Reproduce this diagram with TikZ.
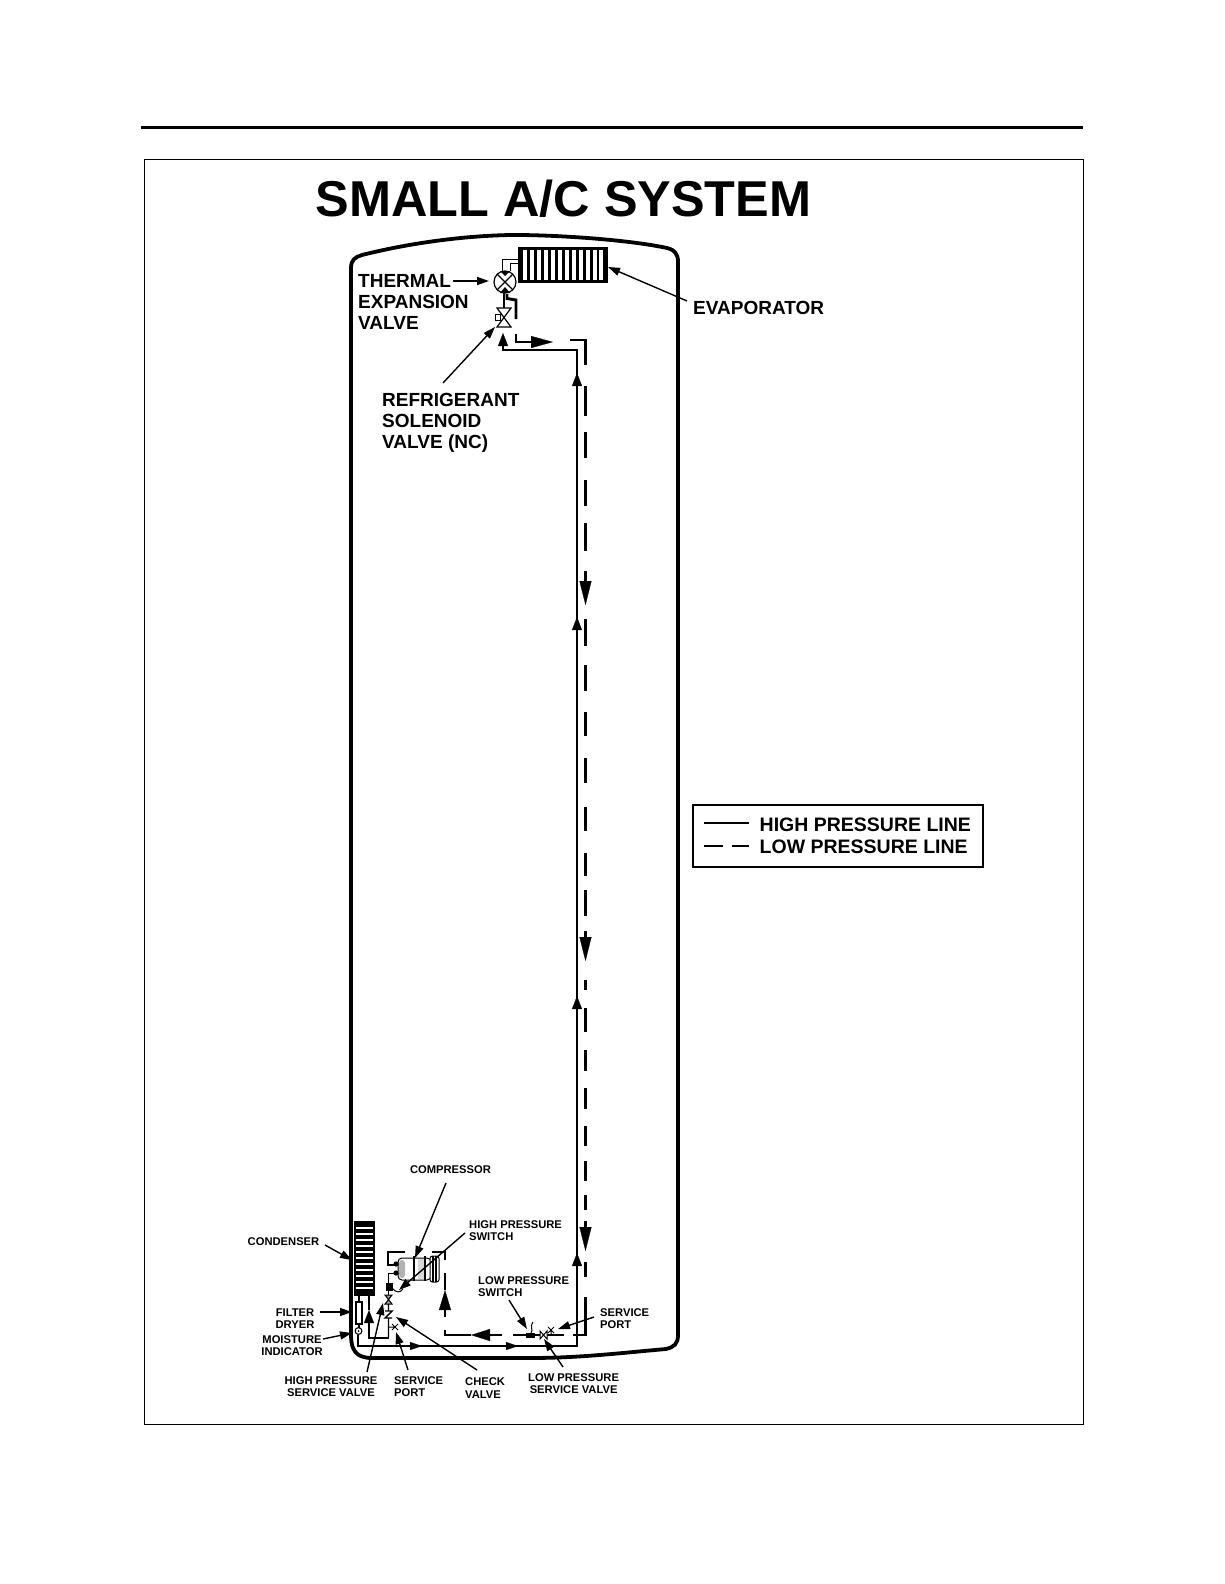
\documentclass[tikz,border=0pt]{standalone}
\usepackage{fontspec}
\setmainfont{Liberation Sans}
\usetikzlibrary{arrows.meta}
\tikzset{
  hp/.style={line width=1.5pt},
  lp/.style={line width=2.9pt},
  thin part/.style={line width=1pt},
  bigtip/.style={line width=0.2pt,-{Triangle[length=#1,width=12pt]}},
  bigtip/.default=22pt,
  hptip/.style={line width=0.2pt,-{Triangle[length=13pt,width=10pt]}},
  lead/.style={line width=1.4pt,-{Triangle[length=12pt,width=8pt]}},
  lab/.style={font=\fontsize{19}{21}\selectfont\bfseries,align=left,anchor=west,inner sep=0pt},
  small/.style={font=\fontsize{11.2}{12.2}\selectfont\bfseries,inner sep=0pt},
}
\begin{document}
\begin{tikzpicture}[x=1pt,y=-1pt]
\useasboundingbox (0,0) rectangle (1224,1584);
\fill[white] (0,0) rectangle (1224,1584);
% page furniture
\draw[line width=3pt] (141,128) -- (1083,128);
\draw[line width=1pt] (144.5,159) rectangle (1083.5,1424);
\node[inner sep=0pt,font=\fontsize{50.4}{52}\selectfont\bfseries] (title) at (563.5,198.5) {SMALL A/C SYSTEM};
% vehicle outline
\draw[line width=3.8pt,line join=round]
  (351,1335) -- (351,268) .. controls (351,260) and (355,257) .. (362,255)
  .. controls (430,238) and (490,235) .. (515,235)
  .. controls (560,235) and (630,240) .. (667,248)
  .. controls (675,250) and (678,254) .. (678,262)
  -- (678,1335) .. controls (678,1344) and (674,1347) .. (666,1349)
  .. controls (620,1353) and (580,1358) .. (530,1358)
  -- (372,1358) .. controls (356,1358) and (351,1350) .. (351,1335);
% evaporator
\fill (518,247) rectangle (608,283);
\foreach \x in {525,532,539,546,553,560,567,574,581,588,595,601}
  \fill[white] (\x-1.9,250) rectangle (\x+1.9,280);
% thermal expansion valve
\draw[line width=1.2pt,fill=white] (505,282) circle (11);
\node[inner sep=0pt,minimum size=0pt] (txv) at (505,282) {};
\draw[line width=1.2pt] (497,274) -- (513,290) (513,274) -- (497,290);
\draw[thin part] (502,271) -- (502,259.5) -- (518,259.5);
\draw[thin part] (510,271) -- (510,263.5) -- (518,263.5);
\fill (500,293) -- (510,293) -- (505,287) -- cycle;
\fill (500,271) -- (510,271) -- (505,276) -- cycle;
% solenoid valve
\draw[line width=1.2pt,fill=white] (497,308) -- (511,308) -- (497,327) -- (511,327) -- cycle;
\draw[line width=1pt,fill=white] (495,314) rectangle (500,320);
\draw[line width=1.4pt] (504,293) -- (504,308);
% high pressure line
\draw[hp] (503,343) -- (503,350) -- (577,350) -- (577,1346) -- (358,1346) -- (358,1335);
\draw[hptip] (503,346) -- (503,333);
\draw[hptip] (577,386) -- (577,373);
\draw[hptip] (577,631) -- (577,617);
\draw[hptip] (577,1009) -- (577,996);
\draw[hptip] (577,1265) -- (577,1253);
\draw[line width=0.2pt,-{Triangle[length=12pt,width=8pt]}] (506,1346) -- (518,1346);
\draw[line width=0.2pt,-{Triangle[length=12pt,width=8pt]}] (410,1346) -- (422,1346);
% low pressure line, top
\draw[lp] (507,294) -- (507,298.5) -- (516,300) -- (516,319);
\draw[lp] (516,334) -- (516,342) -- (531,342);
\draw[bigtip=22pt] (531,342) -- (553,342);
\draw[lp] (570,340) -- (585.5,340) -- (585.5,365);
% low pressure dashes
\foreach \a/\b in {386/416,432/458,480/506,523/551,571/582,619/646,665/691,712/736,758/783,807/831,853/876,890/916,931/938,980/990,1008/1032,1050/1071,1088/1109,1126/1146,1161/1181,1195/1210,1221/1228,1262/1277}
  \draw[lp] (585.5,\a) -- (585.5,\b);
\draw[bigtip=24pt] (585.5,581) -- (585.5,605);
\draw[bigtip=24pt] (585.5,937) -- (585.5,961);
\draw[bigtip=24pt] (585.5,1227) -- (585.5,1251);
% low pressure line, bottom
\draw[lp] (585.5,1297) -- (585.5,1335) -- (573,1335);
\draw[lp] (564,1335) -- (513,1335);
\draw[lp] (502,1335) -- (490,1335);
\draw[bigtip=19pt] (490,1335) -- (471,1335);
\draw[lp] (471,1335) -- (445,1335) -- (445,1330);
\draw[lp] (445,1317) -- (445,1310);
\draw[bigtip=20pt] (445,1310) -- (445,1290);
\draw[lp] (445,1273) -- (445,1290);
\draw[lp] (445,1260) -- (445,1252) -- (432,1252);
\draw[lp] (405,1252) -- (388,1252) -- (388,1265) -- (398,1265);
% low side parts
\fill (526,1333) rectangle (535,1338);
\draw[line width=1pt] (531,1333) .. controls (534,1329) and (529,1327) .. (533,1322);
\draw[line width=1pt,fill=white] (540,1331) -- (540,1339) -- (547,1331) -- (547,1339) -- cycle;
\draw[line width=1pt] (548,1327) -- (554,1333) (554,1327) -- (548,1333) (551,1330) -- (551,1335);
% compressor
\draw[line width=1pt,fill=white,rounded corners=4pt] (398,1258) rectangle (431,1280);
\fill[black!30,rounded corners=3pt] (399,1260) rectangle (405,1278);
\fill[black!15] (418,1259) rectangle (424,1279);
\draw[line width=1pt,fill=white,rounded corners=2.5pt] (430,1256) rectangle (439,1282);
\draw[line width=1.2pt] (414,1256) -- (414,1281) (425,1256) -- (425,1281) (433,1256) -- (433,1282) (436,1256) -- (436,1282);
\fill (396,1264) circle (2.6) (396,1273) circle (2.6);
\draw[thin part] (396,1273) -- (388,1273) -- (388,1284);
% high pressure switch, service valve, check valve
\fill (386,1283) rectangle (392.5,1291);
\draw[line width=1pt] (392,1288) .. controls (396,1293) and (400,1293) .. (403,1289);
\draw[line width=1.2pt] (388.5,1291) -- (388.5,1295);
\draw[line width=1pt,fill=black!40] (385,1295) -- (392,1295) -- (385,1304) -- (392,1304) -- cycle;
\draw[line width=1.4pt] (388.5,1304) -- (388.5,1310) (385,1311) -- (392,1311) -- (385,1318) -- (392,1318) (388.5,1318) -- (388.5,1338);
\draw[hp] (388.5,1338) -- (369,1338) -- (369,1318);
\draw[hptip] (369,1322) -- (369,1310);
\draw[line width=1.2pt] (369,1310) -- (369,1295);
\draw[line width=1pt] (388.5,1327) -- (395,1327) (392,1324) -- (398,1330) (398,1324) -- (392,1330);
% condenser
\fill (354,1221) rectangle (375,1296);
\foreach \y in {1228,1234,1240,1246,1252,1258,1264,1270,1276,1282,1288}
  \fill[white] (356,\y-1.4) rectangle (373,\y+1.4);
% filter dryer, moisture indicator
\draw[line width=1.1pt] (359,1296) -- (359,1302);
\draw[line width=1.1pt,fill=white] (356,1302) rectangle (362,1324);
\draw[line width=1.1pt] (359,1324) -- (359,1328);
\draw[line width=1.1pt,fill=white] (358.5,1331) circle (3.4);
\fill (358.5,1331) circle (1);
% labels
\node[lab] (lThermal) at (358,302) {THERMAL\\EXPANSION\\VALVE};
\node[lab] (lEvap) at (693,307.5) {EVAPORATOR};
\node[lab] (lSol) at (382,422.5) {REFRIGERANT\\SOLENOID\\VALVE (NC)};
\node[small] (lComp) at (450.5,1169.5) {COMPRESSOR};
\node[small,align=left,anchor=west] (lHPS) at (469,1231) {HIGH PRESSURE\\SWITCH};
\node[small,align=left,anchor=west] (lLPS) at (478,1286.5) {LOW PRESSURE\\SWITCH};
\node[small] (lCond) at (283.5,1242) {CONDENSER};
\node[small,align=center] (lFilter) at (295,1319) {FILTER\\DRYER};
\node[small,align=center] (lMoist) at (292,1345.5) {MOISTURE\\INDICATOR};
\node[small,align=center] (lHPSV) at (331,1387) {HIGH PRESSURE\\SERVICE VALVE};
\node[small,align=left,anchor=west] (lSP1) at (394,1387) {SERVICE\\PORT};
\node[small,align=left,anchor=west] (lCV) at (465,1388) {CHECK\\VALVE};
\node[small,align=center,anchor=west] (lLPSV) at (528,1383.5) {LOW PRESSURE\\SERVICE VALVE};
\node[small,align=left,anchor=west] (lSP2) at (600,1319) {SERVICE\\PORT};
% leader lines
\coordinate (sThermal) at (453,281);  \coordinate (tThermal) at (489,281);
\coordinate (sEvap) at (687,301);     \coordinate (tEvap) at (608,267);
\coordinate (sSol) at (443,383);      \coordinate (tSol) at (495,327);
\coordinate (sComp) at (446,1183);    \coordinate (tComp) at (415,1258);
\coordinate (sHPS) at (465,1233);     \coordinate (tHPS) at (399,1290);
\coordinate (sLPS) at (509,1300);     \coordinate (tLPS) at (527,1329);
\coordinate (sCond) at (325,1245);    \coordinate (tCond) at (352,1260);
\coordinate (sFilter) at (320,1312);  \coordinate (tFilter) at (352,1312);
\coordinate (sMoist) at (323,1339);   \coordinate (tMoist) at (352,1333);
\coordinate (sHPSV) at (367,1372);    \coordinate (tHPSV) at (383,1303);
\coordinate (sSP1) at (408,1370);     \coordinate (tSP1) at (396,1332);
\coordinate (sCV) at (477,1370);      \coordinate (tCV) at (396,1317);
\coordinate (sLPSV) at (563,1367);    \coordinate (tLPSV) at (544,1339);
\coordinate (sSP2) at (594,1317);     \coordinate (tSP2) at (558,1329);
\foreach \n in {Thermal,Evap,Sol,Comp,HPS,LPS,Cond,Filter,Moist,HPSV,SP1,CV,LPSV,SP2}
  \draw[lead] (s\n) -- (t\n);
% legend
\node[draw,line width=2.7pt,minimum width=290pt,minimum height=62pt,inner sep=0pt] (legend) at (838,836) {};
\node[inner sep=0pt,anchor=west,font=\fontsize{19.5}{22}\selectfont\bfseries] (lHigh) at (759.5,824.5) {HIGH PRESSURE LINE};
\node[inner sep=0pt,anchor=west,font=\fontsize{19.5}{22}\selectfont\bfseries] (lLow) at (759.5,846.5) {LOW PRESSURE LINE};
\draw[line width=1.1pt] (704,823) -- (749,823);
\draw[line width=2.6pt] (704,846) -- (723,846) (732,846) -- (749,846);
\end{tikzpicture}
\end{document}
